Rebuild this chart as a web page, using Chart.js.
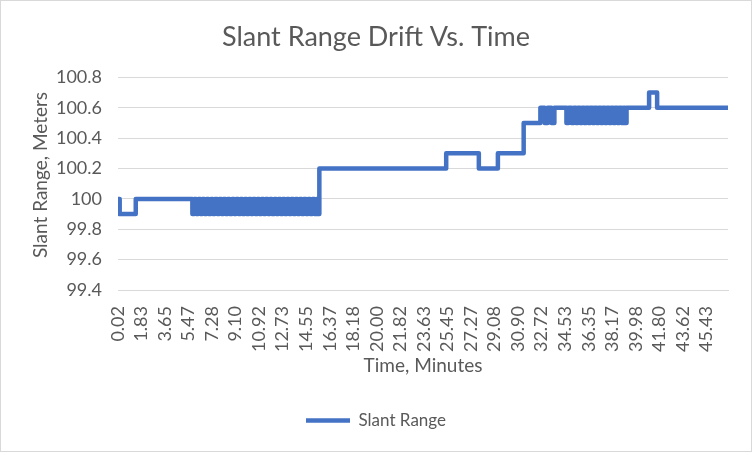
<!DOCTYPE html>
<html>
<head>
<meta charset="utf-8">
<script src="https://cdn.jsdelivr.net/npm/chart.js@4.4.1/dist/chart.umd.min.js"></script>
<style>
  body { margin: 0; background: #fff; }
  .chart-box { width: 752px; height: 452px; box-sizing: border-box; border: 1px solid #d9d9d9; background: #fff; }
</style>
</head>
<body>
<div class="chart-box">
  <canvas id="driftChart" width="750" height="450"></canvas>
</div>
<script>
// Time (minutes) at which the reading changes, and the reading held from then on
const times = [
  0.02, 0.15, 1.39,
  5.76, 5.90, 6.05, 6.21, 6.38, 6.52, 6.70, 6.86, 7.01, 7.19, 7.34, 7.50, 7.68, 7.83,
  8.00, 8.15, 8.33, 8.49, 8.64, 8.82, 8.98, 9.13, 9.31, 9.47, 9.62, 9.80, 9.95,
  10.12, 10.28, 10.43, 10.61, 10.77, 10.92, 11.10, 11.26, 11.41, 11.59, 11.75, 11.90,
  12.08, 12.24, 12.40, 12.57, 12.73, 12.89, 13.06, 13.22, 13.38, 13.55, 13.71, 13.87,
  14.04, 14.20, 14.36, 14.53, 14.69, 14.85, 15.02, 15.18, 15.34, 15.45,
  15.56, 25.35, 27.87, 29.34, 31.33,
  32.62, 32.95, 33.18, 33.47, 33.70, 34.63, 34.80, 35.02,
  35.20, 35.36, 35.52, 35.68, 35.84, 36.00, 36.16, 36.32, 36.48, 36.64, 36.80, 36.96,
  37.12, 37.28, 37.44, 37.60, 37.76, 37.92, 38.08, 38.24, 38.40, 38.56, 38.72, 38.88,
  39.04, 39.16, 39.27,
  41.01, 41.63, 47.10
];
const slantRange = [
  100, 99.9, 100,
  99.9, 100, 99.9, 100, 99.9, 100, 99.9, 100, 99.9, 100, 99.9, 100, 99.9, 100,
  99.9, 100, 99.9, 100, 99.9, 100, 99.9, 100, 99.9, 100, 99.9, 100, 99.9,
  100, 99.9, 100, 99.9, 100, 99.9, 100, 99.9, 100, 99.9, 100, 99.9,
  100, 99.9, 100, 99.9, 100, 99.9, 100, 99.9, 100, 99.9, 100, 99.9,
  100, 99.9, 100, 99.9, 100, 99.9, 100, 99.9, 100, 99.9,
  100.2, 100.3, 100.2, 100.3, 100.5,
  100.6, 100.5, 100.6, 100.5, 100.6, 100.5, 100.6, 100.5,
  100.6, 100.5, 100.6, 100.5, 100.6, 100.5, 100.6, 100.5, 100.6, 100.5, 100.6, 100.5,
  100.6, 100.5, 100.6, 100.5, 100.6, 100.5, 100.6, 100.5, 100.6, 100.5, 100.6, 100.5,
  100.6, 100.5, 100.6,
  100.7, 100.6, 100.6
];
// category labels shown under the axis
const timeLabels = [
  '0.02', '1.83', '3.65', '5.47', '7.28', '9.10', '10.92', '12.73', '14.55',
  '16.37', '18.18', '20.00', '21.82', '23.63', '25.45', '27.27', '29.08', '30.90',
  '32.72', '34.53', '36.35', '38.17', '39.98', '41.80', '43.62', '45.43'
];
const rangeTicks = [99.4, 99.6, 99.8, 100, 100.2, 100.4, 100.6, 100.8];

const textColor = '#595959';
const gridColor = '#d9d9d9';
const fontFamily = 'Lato';

const points = times.map((t, i) => ({ x: t, y: slantRange[i] }));

// y axis title, drawn by hand so it sits where Excel puts it (a bit above centre)
const yTitlePlugin = {
  id: 'yTitle',
  afterDraw(chart) {
    const ctx = chart.ctx;
    ctx.save();
    ctx.translate(40, 174);
    ctx.rotate(-Math.PI / 2);
    ctx.fillStyle = textColor;
    ctx.font = '19px ' + fontFamily;
    ctx.textAlign = 'center';
    ctx.textBaseline = 'middle';
    ctx.fillText('Slant Range, Meters', 0, 0);
    ctx.restore();
  }
};

new Chart(document.getElementById('driftChart'), {
  type: 'line',
  data: {
    datasets: [{
      label: 'Slant Range',
      data: points,
      borderColor: '#4472C4',
      backgroundColor: '#4472C4',
      borderWidth: 4.5,
      borderCapStyle: 'round',
      borderJoinStyle: 'round',
      stepped: true,
      pointRadius: 0,
      fill: false
    }]
  },
  plugins: [yTitlePlugin],
  options: {
    responsive: false,
    animation: false,
    layout: { padding: { left: 0, right: 0, top: 0, bottom: 12 } },
    plugins: {
      title: {
        display: true,
        text: 'Slant Range Drift Vs. Time',
        color: textColor,
        font: { family: fontFamily, size: 27, weight: 'normal' },
        padding: { top: 20, bottom: 24 }
      },
      legend: {
        position: 'bottom',
        labels: {
          color: textColor,
          font: { family: fontFamily, size: 17 },
          usePointStyle: true,
          pointStyle: 'line',
          pointStyleWidth: 44,
          padding: 10
        }
      },
      tooltip: { enabled: false }
    },
    scales: {
      x: {
        type: 'linear',
        min: times[0],
        max: times[times.length - 1],
        grid: { display: false, drawTicks: false },
        border: { display: true, color: gridColor, width: 1 },
        afterBuildTicks: (scale) => {
          scale.ticks = timeLabels.map(s => ({ value: parseFloat(s) }));
        },
        afterFit: (scale) => { scale.height = 112; },
        ticks: {
          autoSkip: false,
          minRotation: 90,
          maxRotation: 90,
          padding: 16,
          color: textColor,
          font: { family: fontFamily, size: 18 },
          callback: (v) => v.toFixed(2)
        },
        title: {
          display: true,
          text: 'Time, Minutes',
          color: textColor,
          font: { family: fontFamily, size: 19 },
          padding: { top: 0, bottom: 25 }
        }
      },
      y: {
        min: 99.4,
        max: 100.8,
        grid: { color: gridColor, lineWidth: 1, drawTicks: false },
        border: { display: false },
        afterBuildTicks: (scale) => {
          scale.ticks = rangeTicks.map(v => ({ value: v }));
        },
        afterFit: (scale) => { scale.width = 117; },
        ticks: {
          padding: 16,
          color: textColor,
          font: { family: fontFamily, size: 18 },
          callback: (v) => String(parseFloat(v.toFixed(1)))
        }
      },
      // empty strip on the right, keeps the plot short of the edge while title and legend centre on the full width
      yRight: {
        position: 'right',
        grid: { display: false, drawTicks: false },
        border: { display: false },
        ticks: { display: false },
        afterFit: (scale) => { scale.width = 23; }
      }
    }
  }
});
</script>
</body>
</html>
